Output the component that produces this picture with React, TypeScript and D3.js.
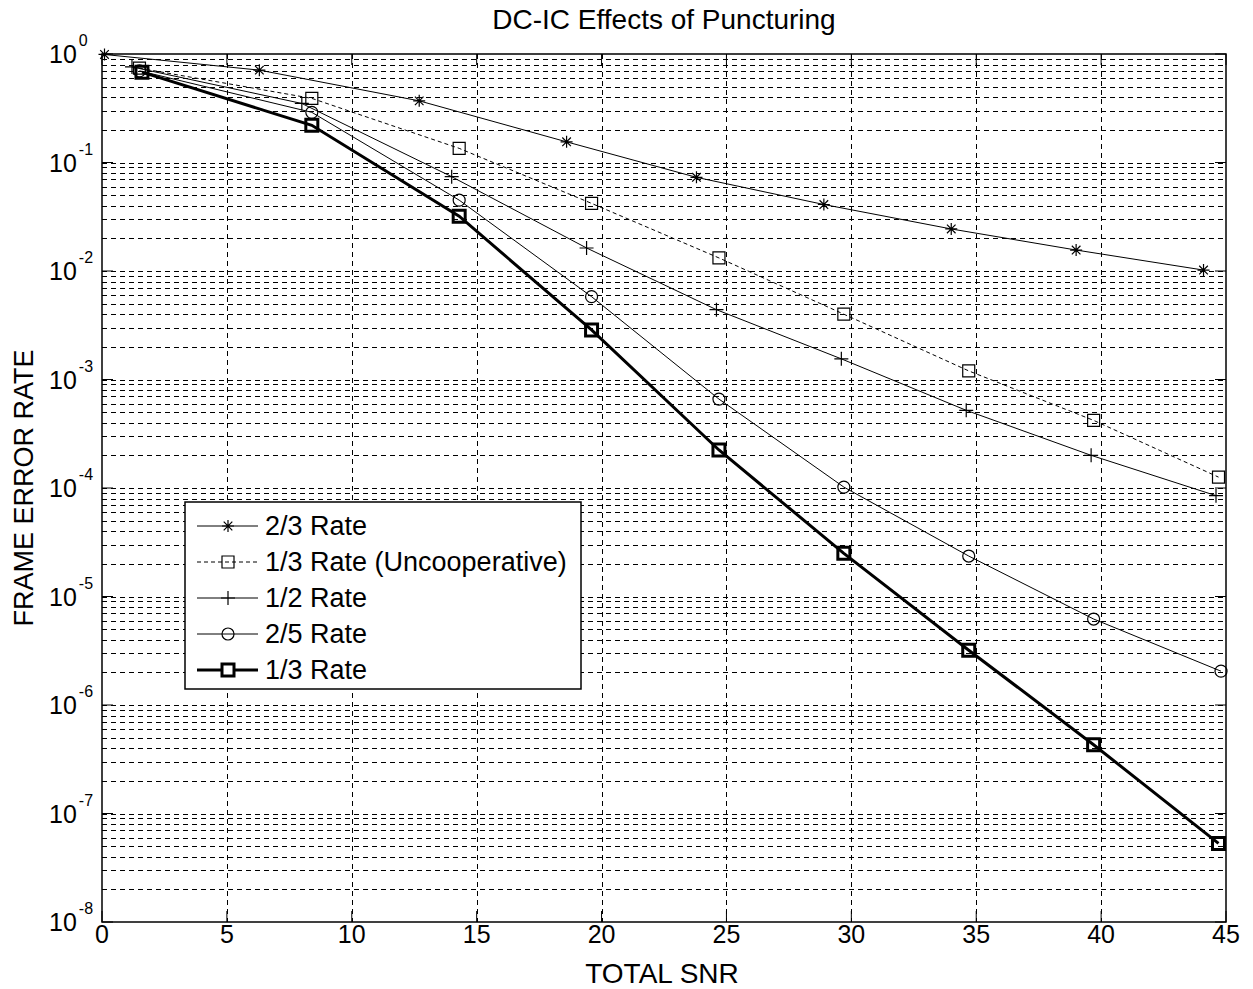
import React, { useRef, useEffect } from 'react';
import * as d3 from 'd3';

// SNR (x) and frame error rate (y) per curve
const snrRate23 = [0.1, 6.3, 12.7, 18.6, 23.8, 28.9, 34.0, 39.0, 44.1];
const ferRate23 = [0.99, 0.71, 0.37, 0.155, 0.073, 0.041, 0.0244, 0.0156, 0.0102];

const snrRate13U = [1.5, 8.4, 14.3, 19.6, 24.7, 29.7, 34.7, 39.7, 44.7];
const ferRate13U = [0.74, 0.39, 0.135, 0.042, 0.0132, 0.004, 0.0012, 4.2e-4, 1.26e-4];

const snrRate12 = [1.2, 8.0, 14.0, 19.4, 24.6, 29.6, 34.6, 39.6, 44.6];
const ferRate12 = [0.76, 0.35, 0.074, 0.0163, 0.0044, 0.00155, 5.2e-4, 2.0e-4, 8.5e-5];

const snrRate25 = [1.5, 8.4, 14.3, 19.6, 24.7, 29.7, 34.7, 39.7, 44.8];
const ferRate25 = [0.7, 0.29, 0.045, 0.0058, 6.6e-4, 1.02e-4, 2.36e-5, 6.2e-6, 2.05e-6];

const snrRate13 = [1.6, 8.4, 14.3, 19.6, 24.7, 29.7, 34.7, 39.7, 44.7];
const ferRate13 = [0.68, 0.22, 0.032, 0.00286, 2.24e-4, 2.5e-5, 3.2e-6, 4.3e-7, 5.3e-8];

const seriesNames = ['2/3 Rate', '1/3 Rate (Uncooperative)', '1/2 Rate', '2/5 Rate', '1/3 Rate'];
const xTicks = [0, 5, 10, 15, 20, 25, 30, 35, 40, 45];
const yExponents = [0, -1, -2, -3, -4, -5, -6, -7, -8];

const FONT = '"Liberation Sans", Arial, Helvetica, sans-serif';

// marker path builders, centred on 0,0
const markerPath = (type: string) => {
  if (type === 'star') {
    const a = 6, b = 4.3;
    return `M${-a},0L${a},0M0,${-a}L0,${a}M${-b},${-b}L${b},${b}M${-b},${b}L${b},${-b}`;
  }
  if (type === 'plus') {
    const a = 7;
    return `M${-a},0L${a},0M0,${-a}L0,${a}`;
  }
  if (type === 'square') {
    const a = 6;
    return `M${-a},${-a}H${a}V${a}H${-a}Z`;
  }
  const r = 6;
  return `M${r},0A${r},${r} 0 1,1 ${-r},0A${r},${r} 0 1,1 ${r},0Z`;
};

const App = () => {
  const svgRef = useRef(null);

  useEffect(() => {
    const width = 1253;
    const height = 989;
    const margin = { top: 54, right: 27, bottom: 67, left: 102 };
    const W = width - margin.left - margin.right;
    const H = height - margin.top - margin.bottom;

    const root = d3.select(svgRef.current)
      .attr('width', width)
      .attr('height', height);
    root.selectAll('*').remove();

    root.append('rect').attr('width', width).attr('height', height).attr('fill', '#fff');

    const svg = root.append('g').attr('transform', `translate(${margin.left}, ${margin.top})`);

    const x = d3.scaleLinear().domain([0, 45]).range([0, W]);
    const y = d3.scaleLog().domain([1e-8, 1]).range([H, 0]);

    // grid: vertical
    svg.append('g')
      .selectAll('line')
      .data(xTicks.filter(t => t > 0 && t < 45))
      .enter()
      .append('line')
      .attr('x1', d => Math.round(x(d)) + 0.5).attr('x2', d => Math.round(x(d)) + 0.5)
      .attr('y1', 0).attr('y2', H)
      .attr('stroke', '#000')
      .attr('stroke-width', 1)
      .attr('stroke-dasharray', '5,4');

    // grid: horizontal, major + minor decades
    const gridVals: number[] = [];
    for (let e = -8; e < 0; e++) {
      for (let m = 1; m <= 9; m++) {
        const v = m * Math.pow(10, e);
        if (v > 1e-8) gridVals.push(v);
      }
    }
    svg.append('g')
      .selectAll('line')
      .data(gridVals)
      .enter()
      .append('line')
      .attr('x1', 0).attr('x2', W)
      .attr('y1', d => Math.round(y(d)) + 0.5).attr('y2', d => Math.round(y(d)) + 0.5)
      .attr('stroke', '#000')
      .attr('stroke-width', 1)
      .attr('stroke-dasharray', '5,4');

    // tick marks
    const tl = 11;
    const ticks = svg.append('g').attr('stroke', '#000').attr('stroke-width', 1);
    xTicks.forEach(t => {
      ticks.append('line').attr('x1', x(t)).attr('x2', x(t)).attr('y1', H).attr('y2', H - tl);
      ticks.append('line').attr('x1', x(t)).attr('x2', x(t)).attr('y1', 0).attr('y2', tl);
    });
    yExponents.forEach(e => {
      const yy = y(Math.pow(10, e));
      ticks.append('line').attr('x1', 0).attr('x2', tl).attr('y1', yy).attr('y2', yy);
      ticks.append('line').attr('x1', W - tl).attr('x2', W).attr('y1', yy).attr('y2', yy);
    });

    // axes box
    svg.append('rect')
      .attr('width', W).attr('height', H)
      .attr('fill', 'none').attr('stroke', '#000').attr('stroke-width', 1.5);

    // x tick labels
    svg.append('g')
      .selectAll('text')
      .data(xTicks)
      .enter()
      .append('text')
      .attr('x', d => x(d))
      .attr('y', H + 21)
      .attr('text-anchor', 'middle')
      .attr('font-family', FONT)
      .attr('font-size', 25)
      .text(d => d);

    // y tick labels (10^e)
    const yl = svg.append('g').attr('font-family', FONT);
    yExponents.forEach(e => {
      const yy = y(Math.pow(10, e));
      const t = yl.append('text').attr('x', -53).attr('y', yy + 9).attr('font-size', 25);
      t.append('tspan').text('10');
      t.append('tspan').attr('dx', 2).attr('dy', -17).attr('font-size', 16).text(e === 0 ? '0' : `${e}`);
    });

    // series
    const series = [
      { name: seriesNames[0], xs: snrRate23, ys: ferRate23, marker: 'star', width: 1, dash: null },
      { name: seriesNames[1], xs: snrRate13U, ys: ferRate13U, marker: 'square', width: 1, dash: '4,3' },
      { name: seriesNames[2], xs: snrRate12, ys: ferRate12, marker: 'plus', width: 1, dash: null },
      { name: seriesNames[3], xs: snrRate25, ys: ferRate25, marker: 'circle', width: 1, dash: null },
      { name: seriesNames[4], xs: snrRate13, ys: ferRate13, marker: 'square', width: 3, dash: null },
    ];

    const line = d3.line<[number, number]>()
      .x(d => x(d[0]))
      .y(d => y(d[1]));

    series.forEach(s => {
      const pts = s.xs.map((v, i) => [v, s.ys[i]] as [number, number]);
      svg.append('path')
        .datum(pts)
        .attr('d', line)
        .attr('fill', 'none')
        .attr('stroke', '#000')
        .attr('stroke-width', s.width)
        .attr('stroke-dasharray', s.dash);
      svg.append('g')
        .selectAll('path')
        .data(pts)
        .enter()
        .append('path')
        .attr('transform', d => `translate(${x(d[0])},${y(d[1])})`)
        .attr('d', markerPath(s.marker))
        .attr('fill', 'none')
        .attr('stroke', '#000')
        .attr('stroke-width', s.width === 3 ? 3 : 1.2);
    });

    // legend
    const lg = root.append('g').attr('transform', 'translate(185, 502)');
    lg.append('rect')
      .attr('width', 396).attr('height', 187)
      .attr('fill', '#fff').attr('stroke', '#000').attr('stroke-width', 1.5);
    series.forEach((s, i) => {
      const yy = 24 + i * 36;
      lg.append('line')
        .attr('x1', 12).attr('x2', 73).attr('y1', yy).attr('y2', yy)
        .attr('stroke', '#000')
        .attr('stroke-width', s.width)
        .attr('stroke-dasharray', s.dash);
      lg.append('path')
        .attr('transform', `translate(43,${yy})`)
        .attr('d', markerPath(s.marker))
        .attr('fill', s.marker === 'square' && !s.dash ? '#fff' : 'none')
        .attr('stroke', '#000')
        .attr('stroke-width', s.width === 3 ? 3 : 1.2);
      lg.append('text')
        .attr('x', 80).attr('y', yy + 9)
        .attr('font-family', FONT)
        .attr('font-size', 27)
        .text(s.name);
    });

    // titles
    root.append('text')
      .attr('x', margin.left + W / 2).attr('y', 29)
      .attr('text-anchor', 'middle')
      .attr('font-family', FONT).attr('font-size', 28)
      .text('DC-IC Effects of Puncturing');

    root.append('text')
      .attr('x', margin.left + W / 2 - 2).attr('y', 983)
      .attr('text-anchor', 'middle')
      .attr('font-family', FONT).attr('font-size', 28)
      .text('TOTAL SNR');

    root.append('text')
      .attr('transform', `translate(33, ${margin.top + H / 2 + 0}) rotate(-90)`)
      .attr('text-anchor', 'middle')
      .attr('font-family', FONT).attr('font-size', 27)
      .text('FRAME ERROR RATE');
  }, []);

  return <svg ref={svgRef} style={{ position: 'absolute', left: 0, top: 0 }}></svg>;
};

export default App;
